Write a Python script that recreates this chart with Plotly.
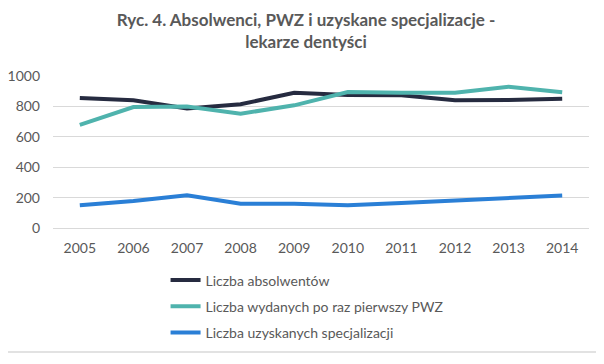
import plotly.graph_objects as go

years = ["2005", "2006", "2007", "2008", "2009", "2010", "2011", "2012", "2013", "2014"]
absolwenci = [855, 840, 787, 814, 890, 875, 873, 840, 842, 851]
pwz = [678, 796, 800, 752, 807, 895, 890, 890, 930, 893]
specjalizacje = [149, 178, 215, 160, 160, 149, 165, 182, 193, 213]

names = ["Liczba absolwentów", "Liczba wydanych po raz pierwszy PWZ", "Liczba uzyskanych specjalizacji"]
colors = ["#262b40", "#4fb3ad", "#2a7fd6"]
series = [absolwenci, pwz, specjalizacje]

fig = go.Figure()
for i, (nm, vals, col) in enumerate(zip(names, series, colors)):
    fig.add_trace(go.Scatter(x=years, y=vals, mode="lines", name=nm,
                             line=dict(color=col, width=4), legendgroup=str(i)))

# The page body has an 8px default margin, so the figure is 8px smaller
fig.update_layout(
    width=596, height=356,
    margin=dict(l=45, r=15, t=68, b=136, autoexpand=False),
    paper_bgcolor="white", plot_bgcolor="white",
    font=dict(family="Lato, Open Sans, sans-serif", size=14, color="#595959"),
    title=dict(text="<b>Ryc. 4. Absolwenci, PWZ i uzyskane specjalizacje -<br>lekarze dentyści</b>",
               x=0.5, xanchor="center", y=0.95, yanchor="top",
               font=dict(size=17, color="#595959")),
    xaxis=dict(type="category", range=[-0.5, 9.5], showgrid=False, showline=False, ticks="",
               ticklabelstandoff=10, tickfont=dict(size=14, color="#595959")),
    yaxis=dict(range=[0, 1000], dtick=200, showgrid=True, gridcolor="#d9d9d9",
               gridwidth=1, zeroline=True, zerolinecolor="#d9d9d9", zerolinewidth=1,
               ticks="", ticklabelstandoff=12, tickfont=dict(size=14, color="#595959")),
    showlegend=True,
    legend=dict(orientation="v", x=0.21, xanchor="left", y=-0.24, yanchor="top",
                tracegroupgap=5, font=dict(size=14, color="#595959"), itemwidth=30),
    shapes=[dict(type="rect", xref="paper", yref="paper",
                 x0=-0.2, x1=1.03, y0=-0.816, y1=1.6,
                 line=dict(color="#d9d9d9", width=1.5), fillcolor="rgba(0,0,0,0)")],
)

fig.write_html("out.html")
